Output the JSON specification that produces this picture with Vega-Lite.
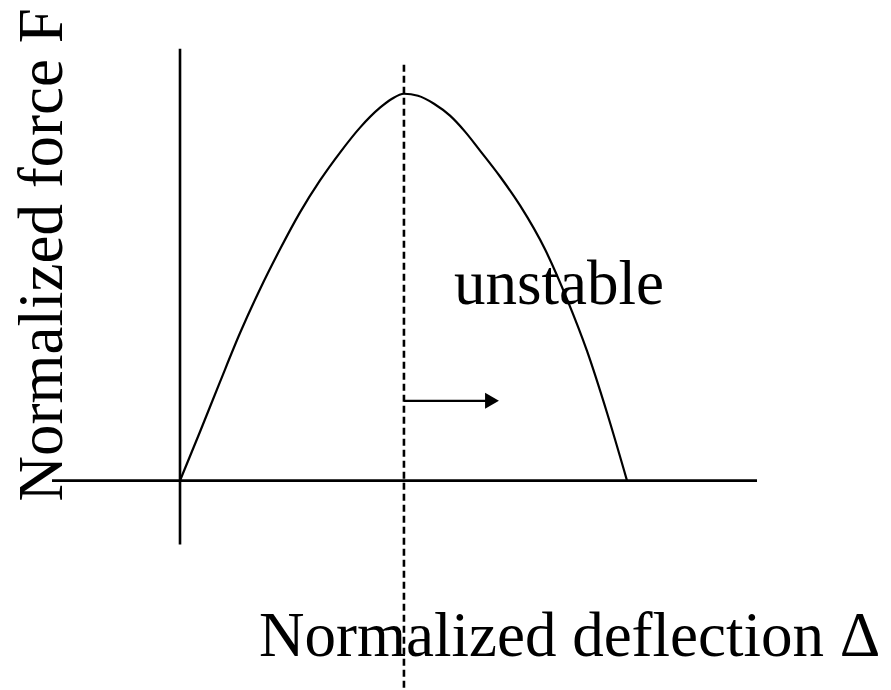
{
  "$schema": "https://vega.github.io/schema/vega-lite/v6.json",
  "width": 891,
  "height": 690,
  "padding": 0,
  "autosize": {"type": "fit", "contains": "padding"},
  "background": "white",
  "config": {"view": {"stroke": null}},
  "layer": [
    {
      "data": {"values": [
        {"d": -0.5727, "f": 0, "d2": 2.5817, "f2": 0},
        {"d": 0, "f": 1.116, "d2": 0, "f2": -0.165}
      ]},
      "mark": {"type": "rule", "color": "black", "strokeWidth": 2.6},
      "encoding": {
        "x": {"field": "d", "type": "quantitative", "scale": {"domain": [-0.8054, 3.1812], "nice": false, "zero": false}, "axis": null},
        "y": {"field": "f", "type": "quantitative", "scale": {"domain": [-0.5361, 1.2423], "nice": false, "zero": false}, "axis": null},
        "x2": {"field": "d2"},
        "y2": {"field": "f2"}
      }
    },
    {
      "data": {"values": [
        {"d": 1.002, "f": 1.0747, "f2": -0.5361}
      ]},
      "mark": {"type": "rule", "color": "black", "strokeWidth": 2.6, "strokeDash": [7, 4]},
      "encoding": {
        "x": {"field": "d", "type": "quantitative"},
        "y": {"field": "f", "type": "quantitative"},
        "y2": {"field": "f2"}
      }
    },
    {
      "data": {"values": [
        {"d": 0, "f": 0},
        {"d": 0.0895, "f": 0.1263},
        {"d": 0.179, "f": 0.2552},
        {"d": 0.2685, "f": 0.3814},
        {"d": 0.3579, "f": 0.4948},
        {"d": 0.4474, "f": 0.5979},
        {"d": 0.5369, "f": 0.6933},
        {"d": 0.6264, "f": 0.7758},
        {"d": 0.7159, "f": 0.8479},
        {"d": 0.8054, "f": 0.9124},
        {"d": 0.8949, "f": 0.9639},
        {"d": 0.9485, "f": 0.9871},
        {"d": 1.0022, "f": 1.0},
        {"d": 1.0649, "f": 0.9948},
        {"d": 1.1365, "f": 0.9742},
        {"d": 1.2081, "f": 0.9433},
        {"d": 1.2752, "f": 0.9021},
        {"d": 1.3423, "f": 0.8531},
        {"d": 1.4318, "f": 0.7861},
        {"d": 1.5213, "f": 0.7113},
        {"d": 1.6331, "f": 0.5979},
        {"d": 1.7315, "f": 0.4691},
        {"d": 1.821, "f": 0.3351},
        {"d": 1.9105, "f": 0.1753},
        {"d": 2.0, "f": 0}
      ]},
      "mark": {"type": "line", "color": "black", "strokeWidth": 2.2, "interpolate": "monotone"},
      "encoding": {
        "x": {"field": "d", "type": "quantitative"},
        "y": {"field": "f", "type": "quantitative"}
      }
    },
    {
      "data": {"values": [
        {"d": 1.002, "f": 0.2062, "d2": 1.396}
      ]},
      "mark": {"type": "rule", "color": "black", "strokeWidth": 2.4},
      "encoding": {
        "x": {"field": "d", "type": "quantitative"},
        "y": {"field": "f", "type": "quantitative"},
        "x2": {"field": "d2"}
      }
    },
    {
      "data": {"values": [
        {"d": 1.396, "f": 0.2062}
      ]},
      "mark": {"type": "point", "shape": "triangle-right", "filled": true, "color": "black", "opacity": 1, "size": 256},
      "encoding": {
        "x": {"field": "d", "type": "quantitative"},
        "y": {"field": "f", "type": "quantitative"}
      }
    },
    {
      "data": {"values": [
        {"d": 1.226, "f": 0.456, "label": "unstable"},
        {"d": 0.3535, "f": -0.4536, "label": "Normalized deflection Δ"}
      ]},
      "mark": {"type": "text", "font": "Liberation Serif", "fontSize": 63, "color": "black", "align": "left", "baseline": "alphabetic"},
      "encoding": {
        "x": {"field": "d", "type": "quantitative"},
        "y": {"field": "f", "type": "quantitative"},
        "text": {"field": "label"}
      }
    },
    {
      "data": {"values": [
        {"d": -0.528, "f": -0.054, "label": "Normalized force F"}
      ]},
      "mark": {"type": "text", "font": "Liberation Serif", "fontSize": 63, "color": "black", "align": "left", "baseline": "alphabetic", "angle": 270},
      "encoding": {
        "x": {"field": "d", "type": "quantitative"},
        "y": {"field": "f", "type": "quantitative"},
        "text": {"field": "label"}
      }
    }
  ]
}
